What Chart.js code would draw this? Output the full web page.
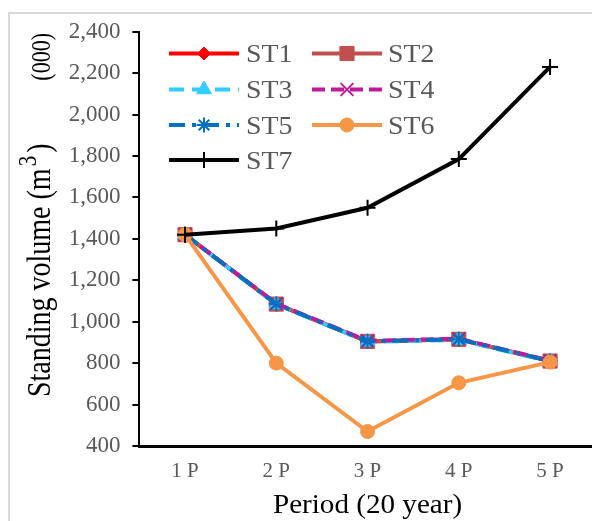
<!DOCTYPE html>
<html><head><meta charset="utf-8">
<script src="https://cdn.jsdelivr.net/npm/chart.js@4.4.0/dist/chart.umd.min.js"></script>
<style>
html,body{margin:0;padding:0;background:#fff;overflow:hidden;width:592px;height:521px;}
#frame{position:absolute;left:8px;top:12px;width:700px;height:600px;border-left:2px solid #D9D9D9;border-top:2px solid #D9D9D9;}
#wrap{position:absolute;left:0;top:0;width:610px;height:521px;}
</style></head><body>
<div id="frame"></div>
<div id="wrap"><canvas id="c" width="610" height="521"></canvas></div>
<script>
// ---- data ----
const categories = ['1 P', '2 P', '3 P', '4 P', '5 P'];
const seriesNames = ['ST1', 'ST2', 'ST3', 'ST4', 'ST5', 'ST6', 'ST7'];
const st1 = [1420, 1085, 905, 915, 810];
const st2 = [1420, 1085, 905, 915, 810];
const st3 = [1420, 1083, 903, 912, 808];
const st4 = [1420, 1088, 908, 918, 812];
const st5 = [1420, 1085, 905, 915, 810];
const st6 = [1420, 800, 470, 705, 805];
const st7 = [1420, 1450, 1550, 1785, 2230];
const yMin = 400, yMax = 2400, yStep = 200;

const FONT = '"Liberation Serif", "Times New Roman", serif';

const styles = [
  {color:'#FF0000', dash:[], pointStyle:'rectRot', radius:6.5, fill:true},
  {color:'#C0504D', dash:[], pointStyle:'rect', radius:10, fill:true},
  {color:'#33CCFF', dash:[15,8], pointStyle:'triangle', radius:8.5, fill:true},
  {color:'#BF1A9C', dash:[13,6], pointStyle:'crossRot', radius:9, fill:false},
  {color:'#0070C0', dash:[16,7,4,7], pointStyle:'star', radius:7.5, fill:false},
  {color:'#F79646', dash:[], pointStyle:'circle', radius:7, fill:true},
  {color:'#000000', dash:[], pointStyle:'cross', radius:8, fill:false}
];
const allSeries = [st1, st2, st3, st4, st5, st6, st7];

const datasets = allSeries.map((d, i) => ({
  label: seriesNames[i],
  data: d,
  borderColor: styles[i].color,
  backgroundColor: styles[i].color,
  borderWidth: 4,
  borderDash: styles[i].dash,
  pointStyle: styles[i].pointStyle,
  pointRadius: styles[i].radius,
  pointHoverRadius: styles[i].radius,
  pointBackgroundColor: styles[i].color,
  pointBorderColor: styles[i].color,
  pointBorderWidth: styles[i].fill ? 1 : 2,
  tension: 0,
  order: 6 - i,
  clip: false
}));

function stretchedText(ctx, text, x, y, sx) {
  ctx.save();
  ctx.translate(x, y);
  ctx.scale(sx, 1);
  ctx.fillText(text, 0, 0);
  ctx.restore();
}

const legendPlugin = {
  id: 'customLegend',
  afterDraw(chart) {
    const ctx = chart.ctx;
    const cols = [{x0:169, x1:239, xm:204, xt:246}, {x0:312, x1:382, xm:347, xt:388}];
    const rows = [53.5, 89.5, 125, 160];
    ctx.save();
    seriesNames.forEach((name, i) => {
      const c = cols[i % 2], y = rows[Math.floor(i / 2)];
      const s = styles[i];
      ctx.beginPath();
      ctx.setLineDash(s.dash);
      ctx.lineWidth = 4;
      ctx.strokeStyle = s.color;
      ctx.moveTo(c.x0, y); ctx.lineTo(c.x1, y);
      ctx.stroke();
      ctx.setLineDash([]);
      ctx.fillStyle = s.color;
      ctx.strokeStyle = s.color;
      ctx.lineWidth = s.fill ? 1 : 2;
      Chart.helpers.drawPoint(ctx, {pointStyle: s.pointStyle, radius: s.radius, rotation: 0, borderWidth: s.fill ? 1 : 2}, c.xm, y);
      ctx.fillStyle = '#595959';
      ctx.font = '26px ' + FONT;
      ctx.textAlign = 'left';
      ctx.textBaseline = 'alphabetic';
      stretchedText(ctx, name, c.xt, y + 8.5, 1.07);
    });
    ctx.restore();
  }
};

const titlePlugin = {
  id: 'titles',
  afterDraw(chart) {
    const ctx = chart.ctx, a = chart.chartArea;
    ctx.save();
    ctx.fillStyle = '#000';
    ctx.font = '28px ' + FONT;
    ctx.textAlign = 'center';
    ctx.textBaseline = 'alphabetic';
    stretchedText(ctx, 'Period (20 year)', (a.left + a.right) / 2, 513, 1.04);
    // y title (rotated)
    ctx.translate(50, 397);
    ctx.rotate(-Math.PI / 2);
    ctx.scale(1, 1.2);
    ctx.textAlign = 'left';
    ctx.font = '28px ' + FONT;
    const t1 = 'Standing volume (m';
    ctx.fillText(t1, 0, 0);
    let x = ctx.measureText(t1).width + 2;
    ctx.font = '21px ' + FONT;
    ctx.fillText('3', x, -12);
    x += ctx.measureText('3').width + 3;
    ctx.font = '28px ' + FONT;
    ctx.fillText(')', x, 0);
    ctx.font = '22px ' + FONT;
    ctx.textAlign = 'right';
    ctx.fillText('(000)', 364, 0);
    ctx.restore();
  }
};

new Chart(document.getElementById('c'), {
  type: 'line',
  data: { labels: categories, datasets },
  options: {
    responsive: false,
    animation: false,
    events: [],
    layout: { padding: { left: 0, right: 14.3, top: 31.7, bottom: 0 } },
    plugins: { legend: { display: false }, tooltip: { enabled: false } },
    scales: {
      x: {
        type: 'category',
        offset: true,
        grid: { display: false },
        border: { display: true, color: '#000', width: 3 },
        ticks: { color: '#595959', font: { family: FONT, size: 21 }, padding: 5, maxRotation: 0 },
        afterFit(s) { s.height = 75; }
      },
      y: {
        min: yMin, max: yMax,
        ticks: {
          stepSize: yStep,
          color: '#595959',
          font: { family: FONT, size: 23 },
          padding: 12,
          callback: v => v.toLocaleString('en-US')
        },
        grid: { display: true, drawOnChartArea: false, drawTicks: true, tickLength: 7, color: '#000', lineWidth: 2 },
        border: { display: true, color: '#000', width: 2 },
        afterFit(s) { s.width = 139.4; }
      }
    }
  },
  plugins: [legendPlugin, titlePlugin]
});
</script>
</body></html>
